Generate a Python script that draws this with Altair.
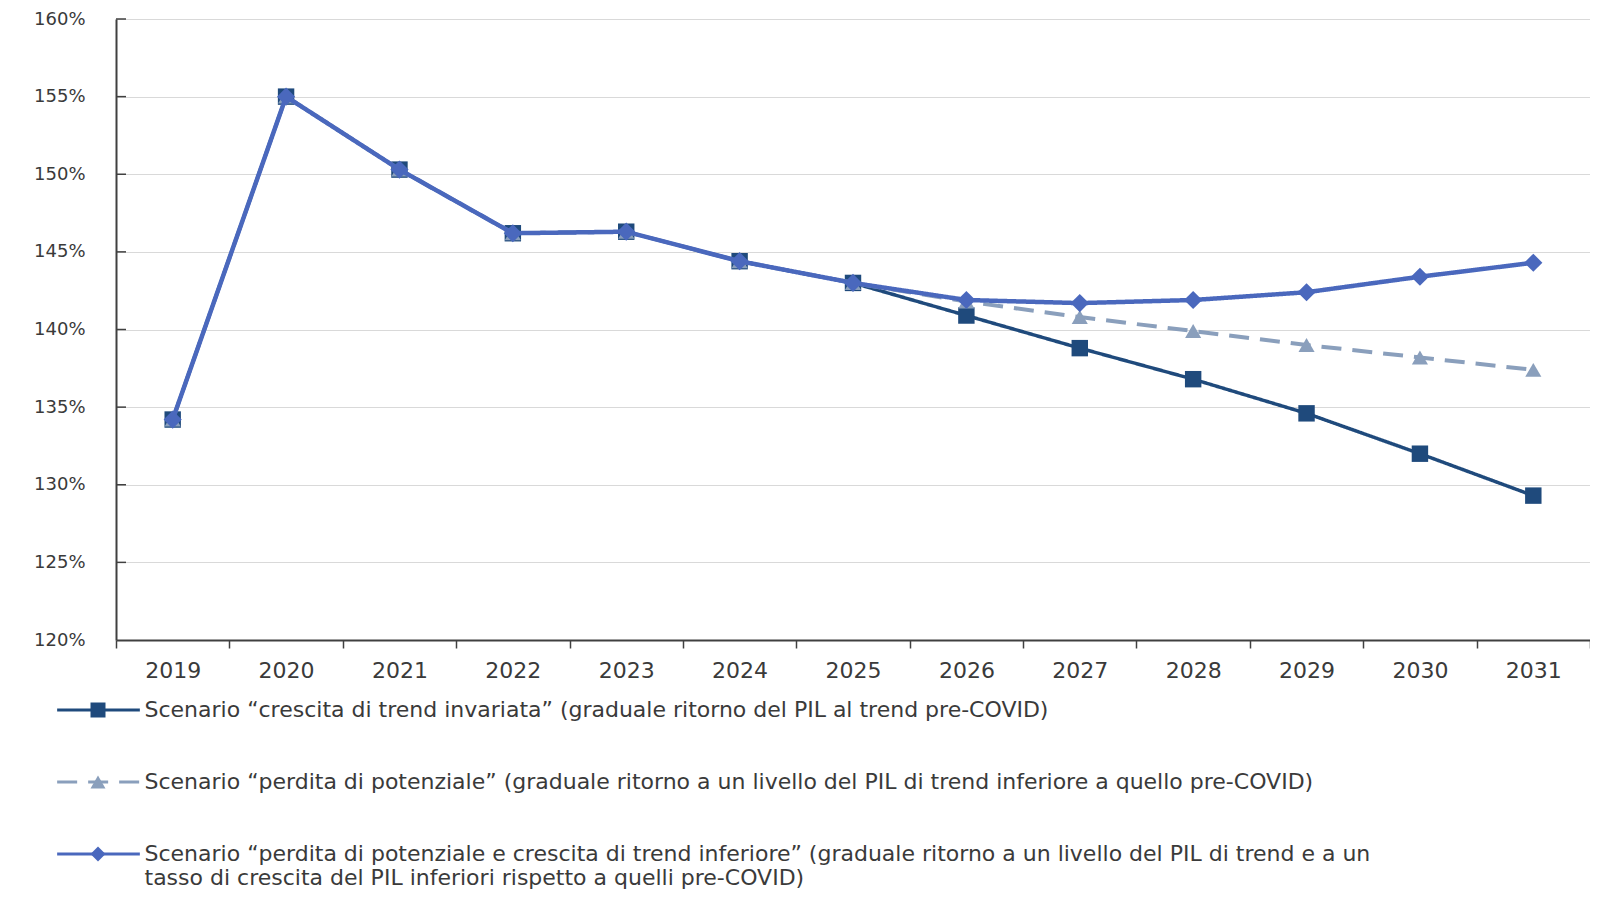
import altair as alt
import pandas as pd

years = ["2019", "2020", "2021", "2022", "2023", "2024", "2025",
         "2026", "2027", "2028", "2029", "2030", "2031"]

s1_name = "Scenario “crescita di trend invariata” (graduale ritorno del PIL al trend pre-COVID)"
s2_name = "Scenario “perdita di potenziale” (graduale ritorno a un livello del PIL di trend  inferiore a quello pre-COVID)"
s3_name = ("Scenario “perdita di potenziale e crescita di trend inferiore” (graduale ritorno a un livello "
           "del PIL di trend e a un tasso di crescita del PIL inferiori rispetto a quelli pre-COVID)")

s1_values = [134.2, 155.0, 150.3, 146.2, 146.3, 144.4, 143.0, 140.9, 138.8, 136.8, 134.6, 132.0, 129.3]
s2_values = [134.2, 155.0, 150.3, 146.2, 146.3, 144.4, 143.0, 141.8, 140.8, 139.9, 139.0, 138.2, 137.4]
s3_values = [134.2, 155.0, 150.3, 146.2, 146.3, 144.4, 143.0, 141.9, 141.7, 141.9, 142.4, 143.4, 144.3]

y_ticks = [120, 125, 130, 135, 140, 145, 150, 155, 160]

names = [s1_name, s2_name, s3_name]
pt_names = [n + " " for n in names]
colors = ["#1f4a7c", "#8a9fbc", "#4a68bd"]
dashes = [[1, 0], [20, 11], [1, 0]]
shapes = ["square", "triangle-up", "diamond"]

rows = []
for name, pname, vals in zip(names, pt_names, [s1_values, s2_values, s3_values]):
    for y, v in zip(years, vals):
        rows.append({"year": y, "value": v, "series": name, "serie": pname})
df = pd.DataFrame(rows)

FONT = "DejaVu Sans"
TXT = "#3a3a3a"

x_enc = alt.X("year:N", sort=years, title=None,
              scale=alt.Scale(type="band", paddingInner=0, paddingOuter=0),
              axis=alt.Axis(labelAngle=0, tickBand="extent", tickSize=8, tickColor="#404040",
                            tickWidth=1.5, domainColor="#404040", domainWidth=2,
                            labelFont=FONT, labelFontSize=22, labelColor=TXT, labelPadding=12,
                            grid=False))
y_scale = alt.Scale(domain=[120, 160], nice=False, zero=False)
y_axis = alt.Axis(values=y_ticks, labelExpr="datum.value + '%'", grid=True,
                  gridColor="#d9d9d9", gridWidth=1, domainColor="#404040",
                  domainWidth=2, ticks=False, tickSize=0, labelPadding=31,
                  labelFont=FONT, labelFontSize=18, labelColor=TXT)
y_enc = alt.Y("value:Q", title=None, scale=y_scale, axis=y_axis)

label_expr = "split(replace(datum.label, ' a un tasso', ' a un|tasso'), '|')"
LEG_Y = 680

leg_lines = alt.Legend(title=None, orient="none", legendX=-28.5, legendY=LEG_Y,
                       direction="vertical", symbolType="M-6,0H6", symbolSize=190,
                       symbolStrokeWidth=3, labelFont=FONT, labelFontSize=22,
                       labelColor=TXT, labelLimit=3000, rowPadding=50, padding=0,
                       labelOffset=35, labelExpr=label_expr)
leg_pts = alt.Legend(title=None, orient="none", legendX=-29, legendY=LEG_Y,
                     direction="vertical", symbolSize=225, symbolStrokeWidth=0,
                     labelFont=FONT, labelFontSize=22, labelOpacity=0,
                     labelLimit=3000, rowPadding=50, padding=0, labelOffset=35,
                     labelExpr=label_expr)

color_enc = alt.Color("series:N", scale=alt.Scale(domain=names, range=colors), legend=leg_lines)
dash_enc = alt.StrokeDash("series:N", scale=alt.Scale(domain=names, range=dashes), legend=leg_lines)
fill_enc = alt.Fill("serie:N", scale=alt.Scale(domain=pt_names, range=colors), legend=leg_pts)
shape_enc = alt.Shape("serie:N", scale=alt.Scale(domain=pt_names, range=shapes), legend=leg_pts)

widths = [3.5, 4, 4.5]
sizes = [270, 260, 330]
layers = []
for name, w, sz in zip(names, widths, sizes):
    line = alt.Chart(df).transform_filter(alt.datum.series == name).mark_line(
        strokeWidth=w).encode(x=x_enc, y=y_enc, color=color_enc, strokeDash=dash_enc)
    pts = alt.Chart(df).transform_filter(alt.datum.series == name).mark_point(
        filled=True, opacity=1, size=sz, strokeWidth=0).encode(
        x=x_enc, y=y_enc, fill=fill_enc, shape=shape_enc)
    layers += [line, pts]

tick_df = pd.DataFrame({"value": y_ticks[1:]})
inner_ticks = alt.Chart(tick_df).mark_rule(color="#404040", strokeWidth=1.5).encode(
    y=y_enc, x=alt.value(0), x2=alt.value(10))

chart = alt.layer(*layers, inner_ticks).properties(
    width=1474, height=621,
    autosize=alt.AutoSizeParams(type="none"),
    padding={"left": 108, "top": 11, "right": 0, "bottom": 250},
    background="white",
).configure_view(stroke=None)

chart.save("out.html", embed_options={"renderer": "svg", "actions": False})
